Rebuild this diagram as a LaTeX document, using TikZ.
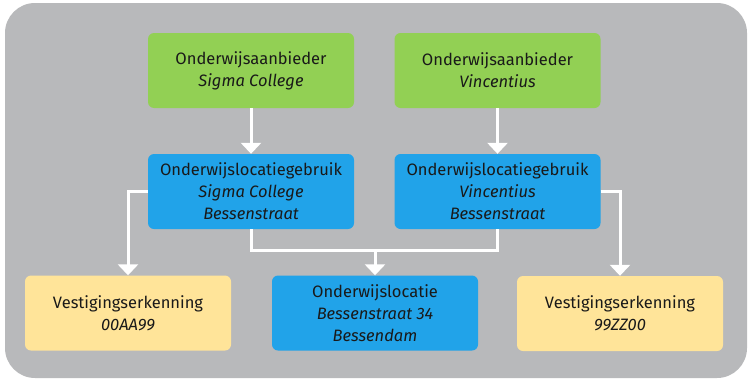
\documentclass[tikz,border=0pt]{standalone}
\usepackage{fontspec}
\setmainfont{Fira Sans}
\usepackage{tikz}
\usetikzlibrary{arrows.meta,positioning}
\definecolor{panelgray}{RGB}{184,185,187}
\definecolor{aanbgreen}{RGB}{146,208,84}
\definecolor{locblue}{RGB}{33,163,233}
\definecolor{erkyellow}{RGB}{255,228,153}
\definecolor{txtdark}{RGB}{25,25,25}

\begin{document}
\begin{tikzpicture}[x=1pt,y=-1pt,
    box/.style={rounded corners=6pt,minimum width=206pt,minimum height=75pt,
      align=center,text=txtdark,font=\fontsize{16.5}{22}\selectfont,inner sep=0pt},
    conn/.style={draw=white,line width=3pt},
    tip/.style={-{Triangle[width=20pt,length=11pt]}}]
  \useasboundingbox (0,0) rectangle (751,380);
  \fill[panelgray,rounded corners=30pt] (5,3) rectangle (747,378);

  % aanbieders
  \node[box,fill=aanbgreen] (aSigma) at (251,70.5) {Onderwijsaanbieder\\\textit{Sigma College}};
  \node[box,fill=aanbgreen] (aVinc) at (497.5,70.5) {Onderwijsaanbieder\\\textit{Vincentius}};

  % gebruik
  \node[box,fill=locblue] (gSigma) at (251,191.5)
    {Onderwijslocatiegebruik\\\textit{Sigma College}\\\textit{Bessenstraat}};
  \node[box,fill=locblue] (gVinc) at (497.5,191.5)
    {Onderwijslocatiegebruik\\\textit{Vincentius}\\\textit{Bessenstraat}};

  % onderste rij
  \node[box,fill=erkyellow] (eLeft) at (128,313) {Vestigingserkenning\\\textit{00AA99}};
  \node[box,fill=locblue] (loc) at (375,313)
    {Onderwijslocatie\\\textit{Bessenstraat 34}\\\textit{Bessendam}};
  \node[box,fill=erkyellow] (eRight) at (620,313.5) {Vestigingserkenning\\\textit{99ZZ00}};

  \draw[conn,tip] (aSigma) -- (gSigma);
  \draw[conn,tip] (aVinc) -- (gVinc);
  \draw[conn,tip] (gSigma.west) -| (eLeft.north);
  \draw[conn,tip] (gVinc.east) -| (eRight.north);

  \coordinate (join) at (375,250);
  \draw[conn] (gSigma.south) |- (join) -| (gVinc.south);
  \draw[conn,tip] (join) -- (loc.north);
\end{tikzpicture}
\end{document}
